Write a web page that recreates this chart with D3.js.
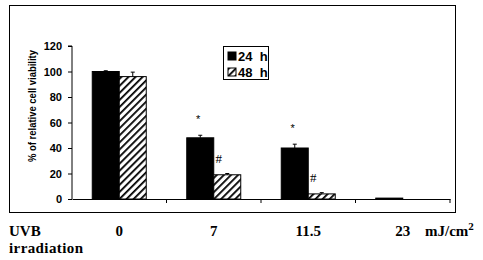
<!DOCTYPE html>
<html>
<head>
<meta charset="utf-8">
<script src="https://cdn.jsdelivr.net/npm/d3@7"></script>
<style>
  body { margin: 0; background: #fff; }
  svg { display: block; }
</style>
</head>
<body>
<div id="chart"></div>
<script>
// chart values
const doses = ["0", "7", "11.5", "23"];
const series = ["24 h", "48 h"];
const viability24 = [100, 48, 40, 0.7];
const viability48 = [96, 19, 4, 0];
const error24 = [0.6, 2, 3, 0];
const error48 = [3.5, 1, 1, 0];
const marks24 = ["", "*", "*", ""];
const marks48 = ["", "#", "#", ""];
const yTicks = [0, 20, 40, 60, 80, 100, 120];

const W = 483, H = 260;
const margin = {top: 46, left: 72, right: 33, bottom: 61};

const svg = d3.select("#chart").append("svg")
    .attr("width", W)
    .attr("height", H);

// hatch pattern for 48 h
const defs = svg.append("defs");
const pat = defs.append("pattern")
    .attr("id", "hatch")
    .attr("patternUnits", "userSpaceOnUse")
    .attr("width", 5)
    .attr("height", 5)
    .attr("patternTransform", "rotate(45)");
pat.append("rect").attr("width", 5).attr("height", 5).attr("fill", "#fff");
pat.append("line")
    .attr("x1", 0).attr("y1", 0).attr("x2", 0).attr("y2", 5)
    .attr("stroke", "#000").attr("stroke-width", 3.6);

// outer frame
svg.append("rect")
    .attr("x", 9.5).attr("y", 5.5)
    .attr("width", 446).attr("height", 207)
    .attr("fill", "none")
    .attr("stroke", "#000")
    .attr("stroke-width", 1);

const x0 = d3.scaleBand()
    .domain(doses)
    .range([margin.left, W - margin.right])
    .paddingInner(0).paddingOuter(0);

const x1 = d3.scaleBand()
    .domain(series)
    .range([0, x0.bandwidth()])
    .paddingInner(0).paddingOuter(0.75);

const y = d3.scaleLinear()
    .domain([0, 120])
    .range([199, 46]);

// y axis
const yAxis = svg.append("g")
    .attr("transform", `translate(${margin.left},0)`)
    .call(d3.axisLeft(y).tickValues(yTicks).tickSize(4).tickPadding(6));
yAxis.selectAll("text")
    .style("font-family", "Arial, 'Liberation Sans', sans-serif")
    .style("font-weight", "bold")
    .style("font-size", "11px")
    .attr("fill", "#000");
yAxis.selectAll("line, path").attr("stroke", "#000");
yAxis.select(".domain").attr("d", `M-4,${y(120)}H0V${y(0)}`);

// x axis line with ticks at category boundaries
const xAxis = svg.append("g")
    .attr("transform", `translate(0,${y(0)})`)
    .call(d3.axisBottom(x0).tickSize(0).tickFormat(""));
xAxis.select(".domain").attr("stroke", "#000");
xAxis.selectAll(".boundary")
    .data(doses)
    .enter().append("line")
    .attr("class", "boundary")
    .attr("x1", d => x0(d) + x0.bandwidth())
    .attr("x2", d => x0(d) + x0.bandwidth())
    .attr("y1", 0).attr("y2", 4)
    .attr("stroke", "#000");

// data table for bars
const rows = doses.map((d, i) => [
    {dose: d, s: series[0], v: viability24[i], e: error24[i], m: marks24[i]},
    {dose: d, s: series[1], v: viability48[i], e: error48[i], m: marks48[i]}
]).flat();

const bars = svg.append("g").selectAll("g")
    .data(rows)
    .enter().append("g")
    .attr("transform", d => `translate(${x0(d.dose) + x1(d.s)},0)`);

bars.append("rect")
    .attr("x", 0)
    .attr("y", d => y(d.v))
    .attr("width", x1.bandwidth())
    .attr("height", d => y(0) - y(d.v))
    .attr("fill", d => d.s === "24 h" ? "#000" : "url(#hatch)")
    .attr("stroke", d => d.v > 0 ? "#000" : "none")
    .attr("stroke-width", 1);

// error bars (upper only)
const err = bars.filter(d => d.e > 0);
err.append("line")
    .attr("x1", x1.bandwidth() / 2).attr("x2", x1.bandwidth() / 2)
    .attr("y1", d => y(d.v)).attr("y2", d => y(d.v + d.e))
    .attr("stroke", "#000");
err.append("line")
    .attr("x1", x1.bandwidth() / 2 - 2).attr("x2", x1.bandwidth() / 2 + 2)
    .attr("y1", d => y(d.v + d.e)).attr("y2", d => y(d.v + d.e))
    .attr("stroke", "#000");

const serif = "'Liberation Serif', 'DejaVu Serif', serif";

// significance marks
bars.filter(d => d.m === "*").append("text")
    .attr("x", x1.bandwidth() / 2 - 2)
    .attr("y", d => y(d.v + d.e) - 12)
    .attr("text-anchor", "middle")
    .style("font-family", "'Liberation Sans', Arial, sans-serif")
    .style("font-size", "11px")
    .text(d => d.m);
bars.filter(d => d.m === "#").append("text")
    .attr("x", 5)
    .attr("y", d => y(d.v + d.e) - 11)
    .attr("text-anchor", "middle")
    .style("font-family", serif)
    .style("font-size", "13px")
    .text(d => d.m);

// y axis title
svg.append("text")
    .attr("transform", `translate(36,106) rotate(-90)`)
    .attr("text-anchor", "middle")
    .attr("textLength", 112)
    .attr("lengthAdjust", "spacingAndGlyphs")
    .style("font-family", "'Liberation Sans', Arial, sans-serif")
    .style("font-weight", "bold")
    .style("font-size", "11px")
    .text("% of relative cell viability");

// legend
const legend = svg.append("g").attr("transform", "translate(223,46)");
legend.append("rect")
    .attr("x", 0.5).attr("y", 0.5)
    .attr("width", 45).attr("height", 33)
    .attr("fill", "#fff").attr("stroke", "#000");
const li = legend.selectAll(".item")
    .data(series)
    .enter().append("g")
    .attr("class", "item")
    .attr("transform", (d, i) => `translate(5,${6 + i * 16})`);
li.append("rect")
    .attr("width", 8).attr("height", 8)
    .attr("fill", (d, i) => i === 0 ? "#000" : "url(#hatch)")
    .attr("stroke", "#000");
li.append("text")
    .attr("x", 10).attr("y", 9)
    .style("font-family", "'Liberation Sans', Arial, sans-serif")
    .style("font-weight", "bold")
    .style("font-size", "13px")
    .style("white-space", "pre")
    .text(d => d.replace(" ", "  "));

// category labels below frame
const labelStyle = sel => sel
    .attr("font-family", serif)
    .attr("font-weight", "bold")
    .attr("font-size", 15);

svg.append("g").selectAll("text")
    .data(doses)
    .enter().append("text")
    .attr("x", d => x0(d) + x0.bandwidth() / 2)
    .attr("y", 236)
    .attr("text-anchor", "middle")
    .call(labelStyle)
    .text(d => d);

svg.append("text")
    .attr("x", 9).attr("y", 236)
    .call(labelStyle)
    .text("UVB");
svg.append("text")
    .attr("x", 9).attr("y", 253)
    .call(labelStyle)
    .attr("letter-spacing", 0.4)
    .text("irradiation");
const unit = svg.append("text")
    .attr("x", 425).attr("y", 236)
    .call(labelStyle);
unit.append("tspan").text("mJ/cm");
unit.append("tspan").attr("dy", -6).attr("font-size", 11).text("2");
</script>
</body>
</html>
